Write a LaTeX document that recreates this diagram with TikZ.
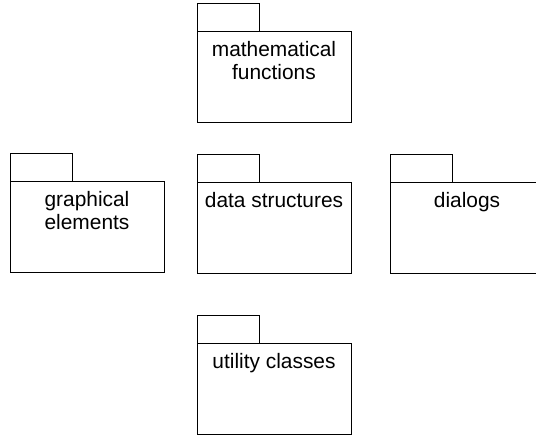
\documentclass[tikz,border=0pt]{standalone}
\usepackage{fontspec}
\setmainfont{Liberation Sans}
\usetikzlibrary{positioning}

\begin{document}
\begin{tikzpicture}[x=0.5pt, y=-0.5pt,
  pkg/.style={draw, line width=0.5pt, minimum width=77pt, minimum height=45.5pt,
    inner sep=0pt, outer sep=0pt, anchor=north west},
  pkgtab/.style={draw, line width=0.5pt, minimum width=31pt, minimum height=14pt,
    inner sep=0pt, outer sep=0pt, anchor=south west},
  pkgname/.style={font=\fontsize{10.45}{11.5}\selectfont, align=center, inner sep=0pt}]
\useasboundingbox (0,0) rectangle (536,438);
\clip (0,0) rectangle (536,438);
% ================= top row =================
\node[pkg] (math) at (197,32) {};
\node[pkgtab] (mathtab) at (math.north west) {};
\node[pkgname, below=4.6pt of math.north] (mathname) {mathematical\\functions};
% ================= middle row =================
% --- graphical elements ---
\node[pkg] (graph) at (10,182) {};
\node[pkgtab] (graphtab) at (graph.north west) {};
\node[pkgname, below=4.6pt of graph.north] (graphname) {graphical\\elements};
% --- data structures ---
\node[pkg] (data) at (197,183) {};
\node[pkgtab] (datatab) at (data.north west) {};
\node[pkgname, below=4.6pt of data.north] (dataname) {data structures};
% --- dialogs (runs past the right edge) ---
\node[pkg] (dialogs) at (390,183) {};
\node[pkgtab] (dialogstab) at (dialogs.north west) {};
\node[pkgname, below=4.6pt of dialogs.north] (dialogsname) {dialogs};
% ================= bottom row =================
\node[pkg] (util) at (197,344) {};
\node[pkgtab] (utiltab) at (util.north west) {};
\node[pkgname, below=4.6pt of util.north] (utilname) {utility classes};
\end{tikzpicture}
\end{document}
